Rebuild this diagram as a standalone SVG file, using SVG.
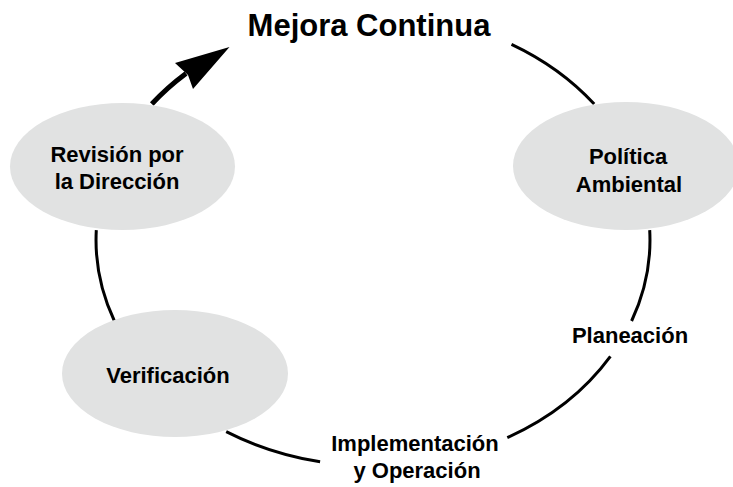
<svg xmlns="http://www.w3.org/2000/svg" width="733" height="487" viewBox="0 0 733 487">
<style>
.arc{fill:none;stroke:#000;stroke-width:3;stroke-linecap:butt}
.node{fill:#e1e2e2;stroke:none}
.t{font-family:"Liberation Sans",Arial,sans-serif;font-weight:bold;font-size:22px;fill:#000;text-anchor:middle}
.title{font-size:31px}
</style>
<rect width="733" height="487" fill="#fff"/>
<g id="connectors">
<path class="arc" d="M511.5,44.3 A277,226 0 0 1 594.2,104"/>
<path class="arc" d="M649.7,230.1 A277,226 0 0 1 631.6,321"/>
<path class="arc" d="M610.4,356.4 A277,226 0 0 1 507.3,437.7"/>
<path class="arc" d="M320.1,461.8 A277,226 0 0 1 226.2,431.6"/>
<path class="arc" d="M114.4,321 A277,226 0 0 1 96.3,230.1"/>
<path class="arc" style="stroke-width:5" d="M151.8,104 A277,226 0 0 1 186,73.5"/>
<polygon points="229.5,47 175,63 188,75 193,89" fill="#000"/>
</g>
<g id="node-revision">
<ellipse class="node" cx="122.5" cy="166.5" rx="112.5" ry="63.5"/>
<text class="t" x="117" y="162">Revisión por</text>
<text class="t" x="117" y="189">la Dirección</text>
</g>
<g id="node-politica">
<ellipse class="node" cx="626" cy="166" rx="113" ry="64"/>
<text class="t" x="628" y="164">Política</text>
<text class="t" x="629" y="192">Ambiental</text>
</g>
<g id="node-verificacion">
<ellipse class="node" cx="175" cy="373.5" rx="113" ry="63.5"/>
<text class="t" x="168" y="383">Verificación</text>
</g>
<g id="labels">
<text class="t title" x="369" y="36">Mejora Continua</text>
<text class="t" x="630" y="343">Planeación</text>
<text class="t" x="415" y="451">Implementación</text>
<text class="t" x="417" y="478">y Operación</text>
</g>
</svg>
